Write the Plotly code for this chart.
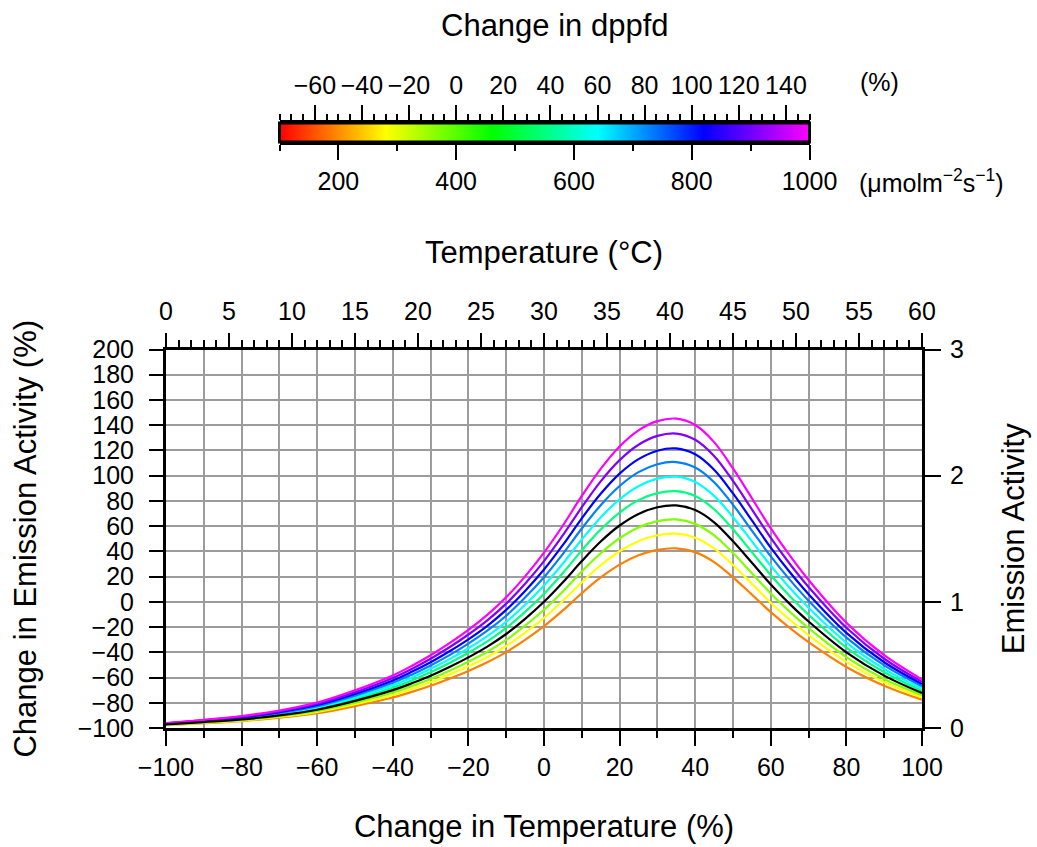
import plotly.graph_objects as go

# Change in temperature relative to the 30 °C reference (%)
temp_change = [-100, -90, -80, -70, -60, -50, -40, -35, -30, -25, -20, -15, -10, -5, 0,
               5, 10, 15, 20, 25, 30, 35, 40, 45, 50, 55, 60, 65, 70, 80, 90, 100]

# Change in emission activity (%) for each light level
orange = [-97.7, -96.2, -94.5, -91.9, -88.3, -82.6, -75.8, -71.4, -66.5, -60.9, -54.8, -47.9, -39.9, -30.2, -19.3,
          -6.8, 6.8, 19.3, 29.5, 36.9, 41.2, 42.4, 39.4, 31.5, 19.4, 5.7, -8.2, -20.6, -31.9, -51.6, -66.5, -77.6]
yellow = [-97.6, -95.9, -94.1, -91.3, -87.3, -81.2, -73.8, -69.1, -63.8, -57.7, -51.1, -43.7, -35.0, -24.5, -12.7,
          0.8, 15.5, 29.0, 40.1, 48.1, 52.8, 54.0, 50.8, 42.3, 29.2, 14.4, -0.7, -14.1, -26.3, -47.6, -63.8, -75.8]
chartreuse = [-97.4, -95.6, -93.6, -90.6, -86.4, -79.9, -71.9, -66.8, -61.1, -54.6, -47.5, -39.6, -30.2, -18.9, -6.3,
              8.2, 24.0, 38.5, 50.4, 59.0, 64.0, 65.3, 61.8, 52.7, 38.7, 22.7, 6.6, -7.8, -20.9, -43.8, -61.1, -74.0]
reference = [-97.2, -95.3, -93.2, -90.0, -85.5, -78.5, -70.0, -64.6, -58.5, -51.6, -44.0, -35.5, -25.5, -13.5, 0.0,
             15.5, 32.3, 47.8, 60.5, 69.7, 75.0, 76.4, 72.7, 63.0, 48.0, 31.0, 13.8, -1.6, -15.6, -40.0, -58.5, -72.3]
spring = [-97.0, -95.0, -92.8, -89.4, -84.6, -77.1, -68.1, -62.3, -55.8, -48.5, -40.4, -31.4, -20.7, -8.0, 6.4,
          22.9, 40.8, 57.3, 70.8, 80.6, 86.2, 87.7, 83.8, 73.4, 57.5, 39.4, 21.1, 4.7, -10.2, -36.2, -55.8, -70.5]
cyan = [-96.8, -94.7, -92.3, -88.7, -83.6, -75.7, -66.1, -60.0, -53.1, -45.4, -36.8, -27.2, -15.9, -2.3, 12.9,
        30.4, 49.4, 66.9, 81.2, 91.6, 97.6, 99.2, 95.0, 84.0, 67.1, 47.9, 28.5, 11.1, -4.7, -32.3, -53.1, -68.7]
azure = [-96.7, -94.4, -91.9, -88.1, -82.7, -74.3, -64.2, -57.7, -50.4, -42.2, -33.1, -22.9, -11.0, 3.4, 19.5,
         38.0, 58.1, 76.6, 91.8, 102.8, 109.1, 110.8, 106.4, 94.8, 76.9, 56.5, 36.0, 17.6, 0.9, -28.3, -50.4, -66.9]
blue = [-96.5, -94.1, -91.5, -87.4, -81.8, -73.0, -62.3, -55.5, -47.9, -39.2, -29.7, -19.0, -6.4, 8.6, 25.6,
        45.1, 66.2, 85.6, 101.6, 113.1, 119.8, 121.6, 116.9, 104.7, 85.9, 64.5, 42.9, 23.6, 6.0, -24.6, -47.9, -65.2]
violet = [-96.3, -93.8, -91.0, -86.8, -80.8, -71.6, -60.3, -53.2, -45.1, -36.0, -25.9, -14.7, -1.4, 14.4, 32.3,
          52.8, 75.0, 95.5, 112.3, 124.5, 131.5, 133.4, 128.5, 115.6, 95.8, 73.3, 50.6, 30.2, 11.7, -20.6, -45.1, -63.4]
magenta = [-96.1, -93.5, -90.5, -86.1, -79.8, -70.1, -58.3, -50.8, -42.3, -32.7, -22.2, -10.3, 3.6, 20.2, 39.0,
           60.5, 83.9, 105.4, 123.1, 135.9, 143.2, 145.2, 140.1, 126.6, 105.7, 82.1, 58.2, 36.8, 17.3, -16.6, -42.3, -61.5]

# Colour-bar scales
ppfd_range = [100, 1000]          # µmol m-2 s-1
dppfd_range = [-75, 150]          # % change
temperature_range = [0, 60]       # °C
activity_range = [0, 3]

FONT = "Liberation Sans, Arial, Helvetica, sans-serif"
GRID = "#9c9c9c"
TICK_SIZE = 25
TITLE_SIZE = 31

rainbow = [[0.0, "rgb(255,0,0)"], [0.2, "rgb(255,255,0)"], [0.4, "rgb(0,255,0)"],
           [0.6, "rgb(0,255,255)"], [0.8, "rgb(0,0,255)"], [1.0, "rgb(255,0,255)"]]

curves = [
    ("orange", "#ff8000", orange),
    ("yellow", "#ffff00", yellow),
    ("chartreuse", "#80ff00", chartreuse),
    ("spring", "#00ff80", spring),
    ("cyan", "#00ffff", cyan),
    ("azure", "#0080ff", azure),
    ("blue", "#0000ff", blue),
    ("violet", "#8000ff", violet),
    ("magenta", "#ff00ff", magenta),
    ("reference", "#000000", reference),
]

fig = go.Figure()

for name, color, values in curves:
    fig.add_trace(go.Scatter(
        x=temp_change, y=values, mode="lines", name=name, showlegend=False,
        line=dict(color=color, width=2.2, shape="spline", smoothing=1.0),
        xaxis="x", yaxis="y", hoverinfo="skip"))

# placeholder trace so the secondary axes are drawn
fig.add_trace(go.Scatter(x=[None], y=[None], xaxis="x2", yaxis="y2", showlegend=False, hoverinfo="skip"))

# colour bar
fig.add_trace(go.Heatmap(
    x=ppfd_range, y=[0, 1], z=[ppfd_range, ppfd_range], zmin=ppfd_range[0], zmax=ppfd_range[1],
    zsmooth="best", colorscale=rainbow, showscale=False, hoverinfo="skip",
    xaxis="x3", yaxis="y3"))
fig.add_trace(go.Scatter(x=[None], y=[None], xaxis="x4", yaxis="y3", showlegend=False, hoverinfo="skip"))

W, H = 1037, 847
ML, MR, MT, MB = 166, 115, 100, 119
PW, PH = W - ML - MR, H - MT - MB


def py(px):
    """page y pixel -> paper fraction"""
    return (H - MB - px) / PH


def pxx(px):
    """page x pixel -> paper fraction"""
    return (px - ML) / PW


main_top = py(349.5)
bar_dom = [py(142), py(123)]
bar_x = [pxx(279.5), pxx(809.5)]

tickfont = dict(family=FONT, size=TICK_SIZE, color="black")
titlefont = dict(family=FONT, size=TITLE_SIZE, color="black")
base = dict(showline=True, linecolor="black", linewidth=3, ticks="outside", tickcolor="black",
            tickwidth=1.5, tickfont=tickfont, zeroline=False, showgrid=False, tickmode="linear",
            automargin=False, fixedrange=True)

fig.update_layout(
    template="none",
    width=W, height=H,
    margin=dict(l=ML, r=MR, t=MT, b=MB, pad=0),
    paper_bgcolor="white", plot_bgcolor="white",
    font=dict(family=FONT, color="black"),
    showlegend=False,
    xaxis=dict(base, domain=[0, 1], anchor="y", range=[-100, 100], tick0=-100, dtick=20, ticklen=15,
               showgrid=True, gridcolor=GRID, gridwidth=2,
               minor=dict(tick0=-100, dtick=10, ticks="outside", ticklen=7, tickwidth=1.5, tickcolor="black",
                          showgrid=True, gridcolor=GRID, gridwidth=2),
               title=dict(text="Change in Temperature (%)", font=titlefont, standoff=36)),
    yaxis=dict(base, domain=[0, main_top], anchor="x", range=[-100, 200], tick0=-100, dtick=20, ticklen=14,
               ticklabelstandoff=10, showgrid=True, gridcolor=GRID, gridwidth=2,
               title=dict(text="Change in Emission Activity (%)", font=titlefont, standoff=32)),
    xaxis2=dict(base, overlaying="x", side="top", anchor="y", range=temperature_range, tick0=0, dtick=5,
                ticklen=14, ticklabelstandoff=3,
                minor=dict(tick0=0, dtick=1, ticks="outside", ticklen=7, tickwidth=1.5, tickcolor="black"),
                title=dict(text="Temperature (°C)", font=titlefont, standoff=24)),
    yaxis2=dict(base, overlaying="y", side="right", anchor="x", range=activity_range, tick0=0, dtick=1,
                ticklen=16, ticklabelstandoff=4,
                title=dict(text="Emission Activity", font=titlefont, standoff=40)),
    xaxis3=dict(base, domain=bar_x, anchor="y3", range=ppfd_range, tick0=0, dtick=200, ticklen=15,
                minor=dict(tick0=0, dtick=100, ticks="outside", ticklen=6, tickwidth=1.5, tickcolor="black")),
    xaxis4=dict(base, overlaying="x3", side="top", anchor="y3", range=dppfd_range, tick0=0, dtick=20,
                ticklen=15, ticklabelstandoff=1,
                minor=dict(tick0=0, dtick=5, ticks="outside", ticklen=6, tickwidth=1.5, tickcolor="black")),
    yaxis3=dict(domain=bar_dom, anchor="x3", range=[0, 1], visible=False, fixedrange=True),
    shapes=[dict(type="rect", xref="x3 domain", yref="y3 domain", x0=0, x1=1, y0=0, y1=1,
                 line=dict(color="black", width=3), fillcolor="rgba(0,0,0,0)", layer="above")],
    annotations=[
        dict(text="Change in dppfd", xref="paper", yref="paper", x=pxx(555), y=py(25),
             xanchor="center", yanchor="middle", showarrow=False, font=titlefont),
        dict(text="(%)", xref="paper", yref="paper", x=pxx(858), y=py(82),
             xanchor="left", yanchor="middle", showarrow=False, font=tickfont),
        dict(text="(μmolm<sup>−2</sup>s<sup>−1</sup>)", xref="paper", yref="paper", x=pxx(857), y=py(181),
             xanchor="left", yanchor="middle", showarrow=False, font=tickfont),
    ],
)

fig.write_html("out.html")
